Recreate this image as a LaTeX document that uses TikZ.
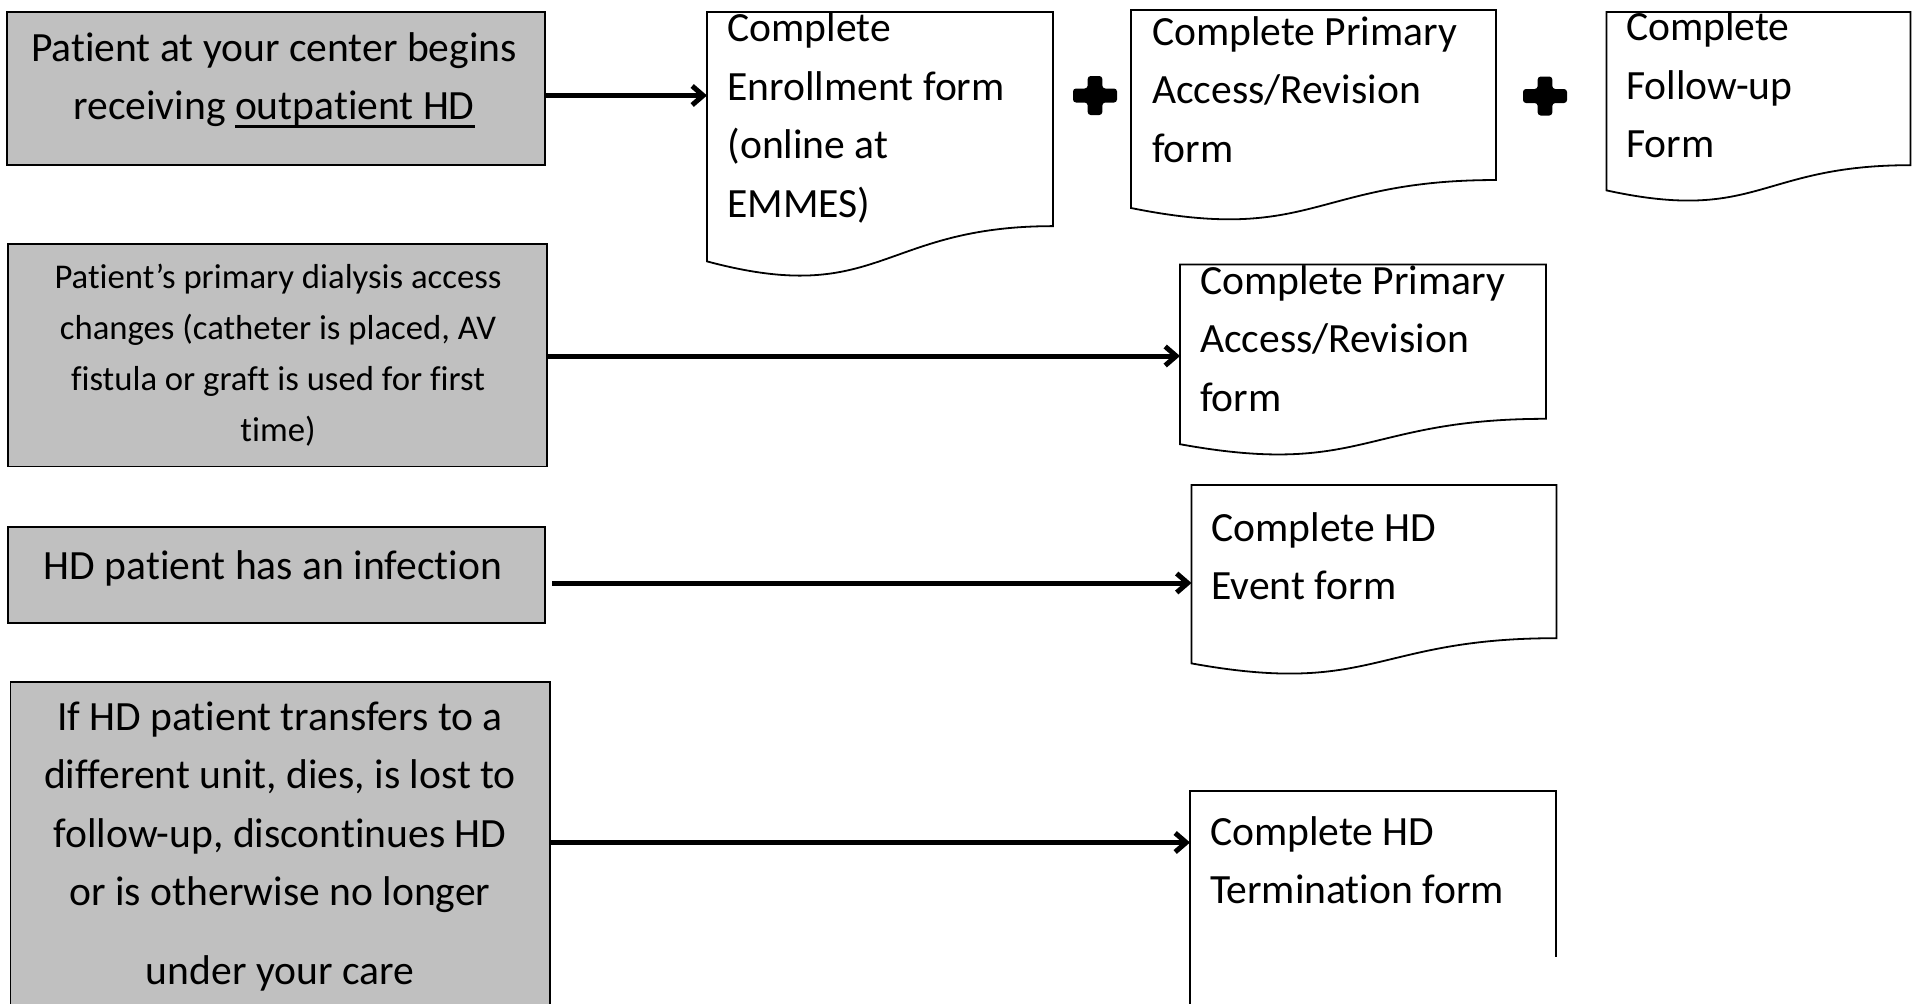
\documentclass[tikz,border=0pt]{standalone}
\usepackage{fontspec}
\setmainfont{Carlito}[Ligatures={NoCommon}]
\usetikzlibrary{arrows.meta,calc}

\definecolor{boxgray}{RGB}{192,192,192}

% text sizes
\newcommand\bigtxt{\fontsize{41.6pt}{58.5pt}\selectfont}
\newcommand\smalltxt{\fontsize{34.7pt}{51pt}\selectfont}

% thick underline
\newcommand\ulined[1]{\setbox0=\hbox{#1}\rlap{\rule[-8pt]{\wd0}{3pt}}\box0}

% outline of a flowchart "document" shape laid over an invisible node
\newcommand\docoutline[1]{%
  \draw[docline] (#1.north west) -- (#1.north east)
    -- ($(#1.north east)!0.802!(#1.south east)$)
    .. controls ($(#1.north)!0.802!(#1.south)$) and ($(#1.north)!1.1075!(#1.south)$)
    .. ($(#1.north west)!0.934!(#1.south west)$) -- cycle;}

\begin{document}
\begin{tikzpicture}[x=1pt,y=-1pt,
  every node/.style={inner sep=0pt,outer sep=0pt},
  greybox/.style={rectangle,draw=black,line width=1.3pt,fill=boxgray,anchor=north west},
  docbox/.style={rectangle,draw=none,anchor=north west},
  docline/.style={draw=black,line width=1.8pt,line join=miter},
  bigtext/.style={font=\bigtxt,execute at begin node={\rule{0pt}{34pt}}},
  smalltext/.style={font=\smalltxt,execute at begin node={\rule{0pt}{29pt}}},
  midtext/.style={anchor=north,align=center},
  lefttext/.style={anchor=north west,align=left},
  conn/.style={line width=5pt,-{Straight Barb[length=11pt,width=19pt]}},
  plussign/.pic={\fill[rounded corners=3pt]
    (-7.3,-19.5) -- (7.3,-19.5) -- (7.3,-7) -- (22,-7) -- (22,7) -- (7.3,7)
    -- (7.3,19.5) -- (-7.3,19.5) -- (-7.3,7) -- (-22,7) -- (-22,-7) -- (-7.3,-7) -- cycle;}
]
\useasboundingbox (0,0) rectangle (1920,1004);
\clip (0,0) rectangle (1920,1004);

% ---- triggering events (grey boxes)
\node[greybox,minimum width=538pt,minimum height=153pt]   (bA) at (7,12) {};
\node[greybox,minimum width=539pt,minimum height=222.5pt] (bB) at (8,244) {};
\node[greybox,minimum width=537pt,minimum height=96pt]    (bC) at (8,527) {};
\node[greybox,minimum width=539.5pt,minimum height=340pt] (bD) at (10.5,682) {};

\node[bigtext,midtext] (tA) at (274,58-25.5)
  {Patient at your center begins\\receiving \ulined{outpatient HD}};
\node[smalltext,midtext] (tB) at (278,287-23)
  {Patient’s primary dialysis access\\changes (catheter is placed, AV\\fistula or graft is used for first\\time)};
\node[bigtext,midtext] (tC) at (273,571-25.5) {HD patient has an infection};
\node[bigtext,midtext] (tD) at (280,727-25.5)
  {If HD patient transfers to a\\different unit, dies, is lost to\\follow-up, discontinues HD\\or is otherwise no longer\\[20pt]under your care};

% ---- forms to complete (document shapes)
\node[docbox,minimum width=346pt,minimum height=267pt] (d1) at (707,12) {};
\node[docbox,minimum width=365pt,minimum height=212pt] (d2) at (1131,10) {};
\node[docbox,minimum width=304pt,minimum height=191pt] (d3) at (1606.5,12) {};
\node[docbox,minimum width=366pt,minimum height=192.4pt] (d4) at (1180,264.5) {};
\node[docbox,minimum width=365pt,minimum height=191pt] (d5) at (1191.5,485) {};
\node[docbox,minimum width=366pt,minimum height=225pt] (d6) at (1190,791) {};

\docoutline{d1}
\docoutline{d2}
\docoutline{d3}
\docoutline{d4}
\docoutline{d5}
\draw[docline] (d6.south west) -- (d6.north west) -- (d6.north east)
  -- ($(d6.north east)+(0,166)$);

\node[bigtext,lefttext] (t1) at (727.5,38.5-25.5)
  {Complete\\Enrollment form\\(online at\\EMMES)};
\node[bigtext,lefttext] (t2) at (1152,42-25.5)
  {Complete Primary\\Access/Revision\\form};
\node[bigtext,lefttext] (t3) at (1626,37.5-25.5)
  {Complete\\Follow-up\\Form};
\node[bigtext,lefttext] (t4) at (1200,291-25.5)
  {Complete Primary\\Access/Revision\\form};
\node[bigtext,lefttext] (t5) at (1211.5,538-25.5)
  {Complete HD\\Event form};
\node[bigtext,lefttext] (t6) at (1210,842-25.5)
  {Complete HD\\Termination form};

% ---- plus signs between the forms of the first row
\coordinate (p1) at (1095,95.5);
\coordinate (p2) at (1545,96);
\pic at (p1) {plussign};
\pic at (p2) {plussign};

% ---- connectors
\draw[conn] (bA.east |- 0,95.5) -- (d1.west |- 0,95.5);
\draw[conn] (bB.east |- 0,356) -- (d4.west |- 0,356);
\draw[conn] ($(bC.east |- 0,583)+(7,0)$) -- (d5.west |- 0,583);
\draw[conn] (bD.east |- 0,842.5) -- (d6.west |- 0,842.5);
\end{tikzpicture}
\end{document}
